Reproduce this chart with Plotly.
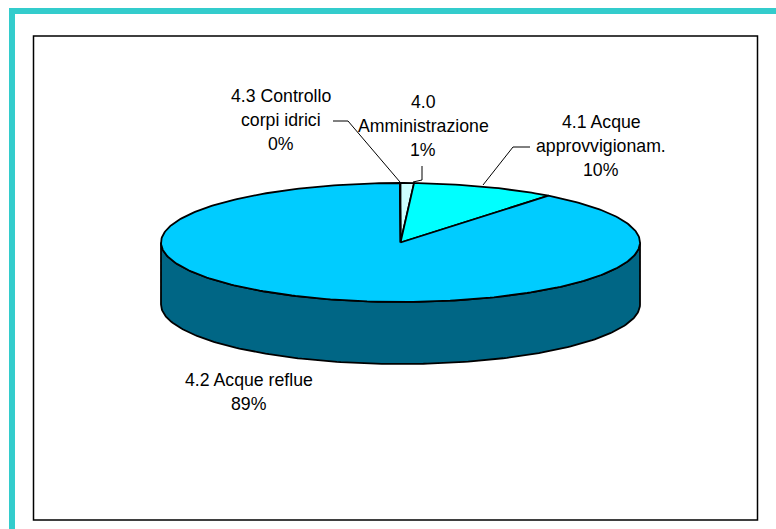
import math
import plotly.graph_objects as go

categories = ["4.0 Amministrazione", "4.1 Acque approvvigionam.", "4.2 Acque reflue", "4.3 Controllo corpi idrici"]
values = [0.9, 9.7, 89.36, 0.04]
top_colors = ["#CCFFFF", "#00FFFF", "#00CCFF", "#FFFFFF"]
side_color = "#006685"
label_lines = [["4.0", "Amministrazione"], ["4.1 Acque", "approvvigionam."], ["4.2 Acque reflue"], ["4.3 Controllo", "corpi idrici"]]
label_anchor = [(423, 102), (601, 122), (249, 380), (281, 96)]
leaders = [
    [(422, 166), (422, 180), (413, 182)],
    [(530, 147), (513, 147), (483, 185)],
    [],
    [(333, 121), (348, 121), (400, 182)],
]

W, H = 776, 529
CX, CY, RX, RY, DEPTH = 400.5, 242.5, 239.5, 59.5, 62
LINE_GAP = 24
FONT = "Liberation Sans, Arial, sans-serif"


def rim(a0, a1, dy=0, n=None):
    """Points on the elliptical rim for share angles a0..a1 in degrees, clockwise from the top."""
    n = n or max(2, int(abs(a1 - a0)) + 2)
    pts = []
    for i in range(n):
        a = math.radians(a0 + (a1 - a0) * i / (n - 1))
        pts.append((CX + RX * math.sin(a), CY - RY * math.cos(a) + dy))
    return pts


fig = go.Figure()

# Front wall of the disc
front = rim(90, 270) + rim(270, 90, DEPTH)
fig.add_trace(go.Scatter(
    x=[p[0] for p in front] + [front[0][0]], y=[p[1] for p in front] + [front[0][1]],
    mode="lines", fill="toself", fillcolor=side_color,
    line=dict(color="#000000", width=1.8), hoverinfo="skip", showlegend=False))

# Top face, one wedge per category
total = sum(values)
start = 0.0
for name, val, col in zip(categories, values, top_colors):
    end = start + 360 * val / total
    pts = [(CX, CY)] + rim(start, end) + [(CX, CY)]
    fig.add_trace(go.Scatter(
        x=[p[0] for p in pts], y=[p[1] for p in pts], name=name,
        mode="lines", fill="toself", fillcolor=col,
        line=dict(color="#000000", width=1.8), hoverinfo="name", showlegend=False))
    start = end

# Leader lines
for seg in leaders:
    if seg:
        fig.add_trace(go.Scatter(
            x=[p[0] for p in seg], y=[p[1] for p in seg], mode="lines",
            line=dict(color="#000000", width=1), hoverinfo="skip", showlegend=False))

# Labels, one annotation per line to keep the wide line spacing
annotations = []
for lines, val, (ax, ay) in zip(label_lines, values, label_anchor):
    share = round(100 * val / total)
    for i, txt in enumerate(lines + [f"{share}%"]):
        annotations.append(dict(
            x=ax, y=ay + i * LINE_GAP, text=txt, showarrow=False,
            xanchor="center", yanchor="middle", xref="x", yref="y",
            font=dict(family=FONT, size=17.7, color="#000000")))

shapes = [
    dict(type="rect", x0=9, x1=W, y0=8, y1=14, xref="x", yref="y", fillcolor="#33CCCC", line_width=0, layer="below"),
    dict(type="rect", x0=9, x1=15, y0=8, y1=H, xref="x", yref="y", fillcolor="#33CCCC", line_width=0, layer="below"),
    dict(type="rect", x0=33.5, x1=757.5, y0=36, y1=520, xref="x", yref="y", fillcolor="#FFFFFF",
         line=dict(color="#000000", width=1.5), layer="below"),
]

fig.update_layout(
    width=W, height=H, autosize=False,
    margin=dict(l=0, r=0, t=0, b=0),
    paper_bgcolor="#FFFFFF", plot_bgcolor="#FFFFFF",
    xaxis=dict(range=[0, W], visible=False, fixedrange=True),
    yaxis=dict(range=[H, 0], visible=False, fixedrange=True),
    shapes=shapes, annotations=annotations, showlegend=False,
)
fig.write_html(
    "out.html", config={"displayModeBar": False}, default_width=W, default_height=H,
    post_script="document.body.style.margin='0';document.body.style.overflow='hidden';",
)
